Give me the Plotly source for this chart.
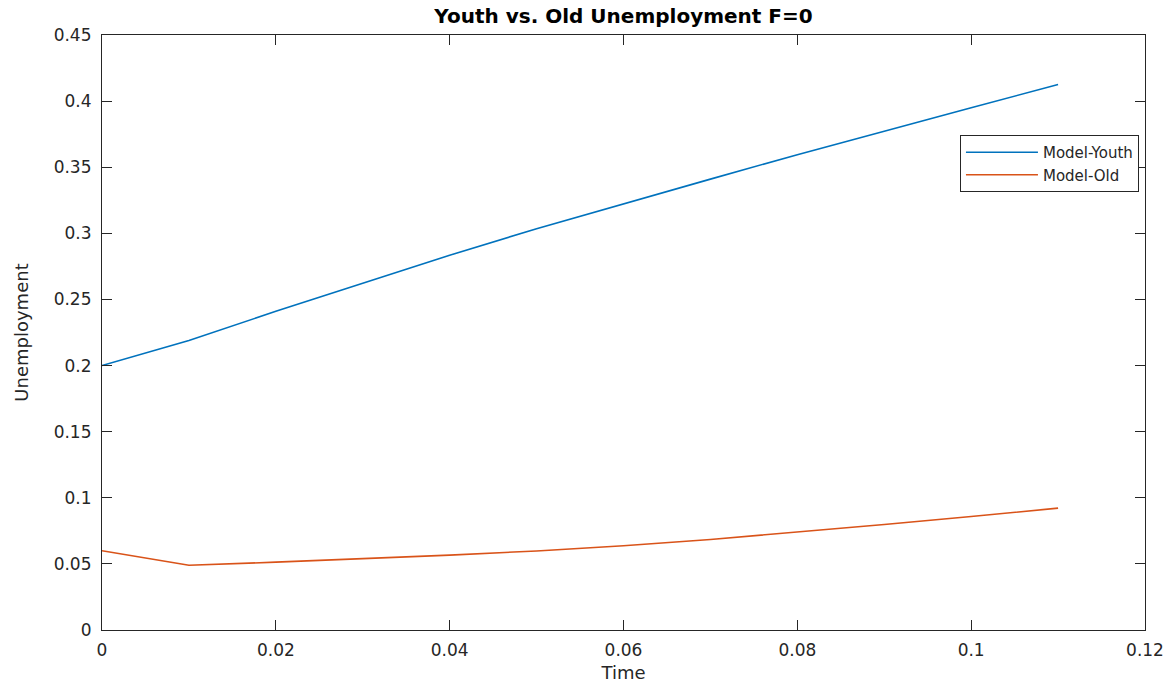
import plotly.graph_objects as go

# Model output: unemployment rate over time for the two age groups (F=0)
time = [0.00, 0.01, 0.02, 0.03, 0.04, 0.05, 0.06, 0.07, 0.08, 0.09, 0.10, 0.11]
youth = [0.200, 0.219, 0.241, 0.2625, 0.2835, 0.3035, 0.3225, 0.341, 0.3595, 0.3775, 0.395, 0.4125]
old = [0.060, 0.049, 0.0513, 0.0538, 0.0566, 0.0598, 0.0637, 0.0685, 0.0740, 0.0798, 0.0858, 0.0922]

x_ticks = [0, 0.02, 0.04, 0.06, 0.08, 0.10, 0.12]
x_tick_text = ["0", "0.02", "0.04", "0.06", "0.08", "0.1", "0.12"]
y_ticks = [0, 0.05, 0.10, 0.15, 0.20, 0.25, 0.30, 0.35, 0.40, 0.45]
y_tick_text = ["0", "0.05", "0.1", "0.15", "0.2", "0.25", "0.3", "0.35", "0.4", "0.45"]

FONT = "DejaVu Sans"
AX = "#262626"

fig = go.Figure()
fig.add_trace(go.Scatter(x=time, y=youth, mode="lines", name="Model-Youth",
                         line=dict(color="#0072BD", width=1.6)))
fig.add_trace(go.Scatter(x=time, y=old, mode="lines", name="Model-Old",
                         line=dict(color="#D95319", width=1.6)))

axis_common = dict(
    showgrid=False, zeroline=False, showline=True, linecolor=AX, linewidth=1.2,
    mirror="ticks", ticks="inside", ticklen=10, tickwidth=1.2, tickcolor=AX,
    tickfont=dict(family=FONT, size=17, color=AX), automargin=False,
)

fig.update_layout(
    width=1175, height=683,
    margin=dict(l=102, r=30, t=35, b=53),
    paper_bgcolor="white", plot_bgcolor="white",
    font=dict(family=FONT, color=AX),
    title=dict(text="<b>Youth vs. Old Unemployment F=0</b>",
               font=dict(family=FONT, size=20, color="#000000"),
               x=(102 + 1145) / 2 / 1175, xanchor="center",
               y=1 - 16 / 683, yanchor="middle"),
    xaxis=dict(range=[0, 0.12], tickvals=x_ticks, ticktext=x_tick_text,
               ticklabelstandoff=4,
               title=dict(text="Time", font=dict(family=FONT, size=18, color=AX), standoff=9),
               **axis_common),
    yaxis=dict(range=[0, 0.45], tickvals=y_ticks, ticktext=y_tick_text,
               ticklabelstandoff=6,
               title=dict(text="Unemployment", font=dict(family=FONT, size=18, color=AX), standoff=20),
               **axis_common),
    legend=dict(x=0.9942, y=0.832, xanchor="right", yanchor="top",
                bgcolor="white", bordercolor=AX, borderwidth=1,
                font=dict(family=FONT, size=15, color=AX),
                itemwidth=72, tracegroupgap=0,
                entrywidth=140, entrywidthmode="pixels"),
    showlegend=True,
)

fig.write_html("out.html")
